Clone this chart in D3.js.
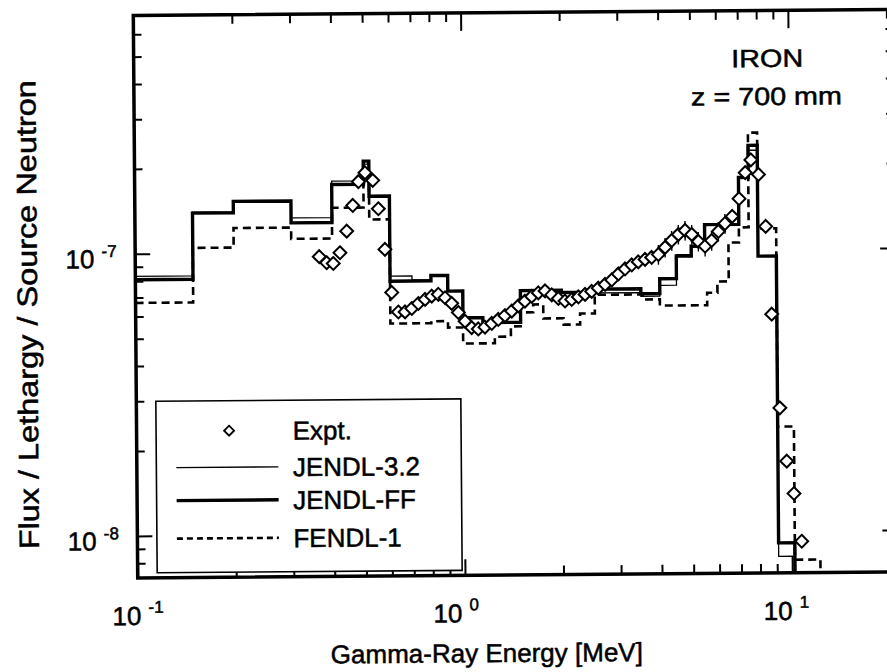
<!DOCTYPE html>
<html>
<head>
<meta charset="utf-8">
<script src="https://cdn.jsdelivr.net/npm/d3@7"></script>
<style>
  body { margin: 0; background: #fff; }
  svg { display: block; }
  text { font-family: "Liberation Sans", Arial, Helvetica, sans-serif; fill: #000; stroke: #000; stroke-width: 0.5px; }
</style>
</head>
<body>
<svg id="chart" width="887" height="672"></svg>
<script>
// Group structure (MeV) shared by the two JENDL calculations
const jendlEdges = [0.1, 0.15, 0.2, 0.3, 0.4, 0.5, 0.52, 0.6, 0.7, 0.8, 0.9, 1.0, 1.15, 1.5, 2.0, 2.5,
                    3.5, 4.0, 4.5, 5.0, 5.5, 7.0, 7.5, 8.0, 9.1, 10.2, 12.0];
// Group fluxes per lethargy per source neutron
const jendl32 = [8.32e-8, 1.40e-7, 1.53e-7, 1.328e-7, 1.787e-7, 2.05e-7, 1.58e-7, 8.20e-8, 7.95e-8, 8.22e-8,
                 7.23e-8, 5.85e-8, 5.60e-8, 7.25e-8, 7.10e-8, 7.06e-8, 6.85e-8, 7.48e-8, 9.60e-8, 1.03e-7,
                 1.22e-7, 1.80e-7, 2.24e-7, 9.43e-8, 8.13e-9, 4.0e-9];
const jendlFF = [8.10e-8, 1.39e-7, 1.525e-7, 1.275e-7, 1.74e-7, 2.10e-7, 1.577e-7, 7.87e-8, 7.87e-8, 8.22e-8,
                 7.23e-8, 5.81e-8, 5.58e-8, 7.23e-8, 7.10e-8, 7.28e-8, 7.00e-8, 7.89e-8, 9.48e-8, 1.027e-7,
                 1.224e-7, 1.795e-7, 2.33e-7, 9.43e-8, 9.07e-9, 4.0e-9];

// FENDL-1 calculation with its own group boundaries
const fendlEdges = [0.1, 0.15, 0.2, 0.3, 0.4, 0.5, 0.52, 0.6, 0.8, 0.9, 1.0, 1.25, 1.4, 1.5, 1.64, 1.76,
                    2.03, 2.28, 2.53, 3.55, 4.0, 5.58, 6.0, 6.5, 7.0, 7.5, 8.0, 9.1, 10.2, 12.2, 14.0];
const fendl1 = [6.70e-8, 1.046e-7, 1.227e-7, 1.119e-7, 1.438e-7, 1.765e-7, 1.304e-7, 5.57e-8, 5.66e-8, 5.37e-8,
                4.71e-8, 4.97e-8, 5.40e-8, 6.05e-8, 6.45e-8, 5.75e-8, 5.46e-8, 5.97e-8, 6.95e-8, 6.67e-8,
                6.34e-8, 7.02e-8, 7.69e-8, 1.056e-7, 1.194e-7, 2.585e-7, 1.182e-7, 2.344e-8, 7.90e-9, 3.0e-9];

// Measured spectrum
const exptEnergy = [0.365, 0.3845, 0.4027, 0.4224, 0.4435, 0.4633, 0.4827, 0.5058, 0.534, 0.5547, 0.5798,
                    0.6066, 0.635, 0.6656, 0.698, 0.7313, 0.7668, 0.8037, 0.8419, 0.8828, 0.9245, 0.9685,
                    1.0146, 1.0627, 1.1132, 1.167, 1.224, 1.282, 1.344, 1.41, 1.477, 1.548, 1.624, 1.702,
                    1.784, 1.870, 1.959, 2.052, 2.151, 2.255, 2.364, 2.477, 2.595, 2.723, 2.855, 2.992,
                    3.136, 3.288, 3.443, 3.612, 3.784, 3.968, 4.161, 4.362, 4.573, 4.794, 5.024, 5.26,
                    5.514, 5.776, 6.058, 6.35, 6.685, 7.02, 7.34, 7.645, 8.06, 8.455, 8.78, 9.25, 9.68,
                    10.17, 10.71];
const exptFlux = [9.66e-8, 9.19e-8, 9.13e-8, 9.96e-8, 1.188e-7, 1.464e-7, 1.777e-7, 1.911e-7, 1.794e-7,
                  1.423e-7, 1.021e-7, 7.18e-8, 6.12e-8, 6.12e-8, 6.29e-8, 6.55e-8, 6.77e-8, 6.95e-8,
                  7.05e-8, 6.85e-8, 6.54e-8, 6.07e-8, 5.65e-8, 5.36e-8, 5.30e-8, 5.38e-8, 5.54e-8,
                  5.72e-8, 5.90e-8, 6.12e-8, 6.38e-8, 6.63e-8, 6.89e-8, 7.09e-8, 7.20e-8, 6.97e-8,
                  6.76e-8, 6.62e-8, 6.70e-8, 6.84e-8, 6.98e-8, 7.15e-8, 7.34e-8, 7.56e-8, 7.84e-8,
                  8.23e-8, 8.57e-8, 8.85e-8, 9.07e-8, 9.25e-8, 9.40e-8, 9.62e-8, 1.019e-7, 1.078e-7,
                  1.132e-7, 1.169e-7, 1.131e-7, 1.068e-7, 1.026e-7, 1.075e-7, 1.157e-7, 1.234e-7,
                  1.307e-7, 1.509e-7, 1.866e-7, 2.07e-7, 1.837e-7, 1.202e-7, 5.87e-8, 2.73e-8,
                  1.767e-8, 1.356e-8, 9.18e-9];
// Relative uncertainty of each measured point
const exptErr = [0.03, 0.03, 0.03, 0.03, 0.03, 0.03, 0.03, 0.03, 0.03, 0.03, 0.03,
                 0.03, 0.03, 0.03, 0.03, 0.03, 0.03, 0.03, 0.03, 0.03, 0.03, 0.03,
                 0.03, 0.03, 0.03, 0.03, 0.03, 0.03, 0.03, 0.03, 0.03, 0.03, 0.03, 0.03,
                 0.03, 0.03, 0.03, 0.03, 0.03, 0.03, 0.03, 0.03, 0.03, 0.05, 0.05, 0.05,
                 0.05, 0.05, 0.05, 0.05, 0.05, 0.08, 0.08, 0.08, 0.08, 0.08, 0.08, 0.08,
                 0.08, 0.08, 0.08, 0.08, 0.03, 0.03, 0.03, 0.03, 0.03, 0.03, 0.03, 0.03, 0.03,
                 0.03, 0.03];

// Axis ticks and labels
const xMajorTicks = [0.1, 1, 10];
const xMajorExponents = ["-1", "0", "1"];
const xMinorTicks = [0.2, 0.3, 0.4, 0.5, 0.6, 0.7, 0.8, 0.9, 2, 3, 4, 5, 6, 7, 8, 9, 20];
const yMajorTicks = [1e-8, 1e-7];
const yMajorExponents = ["-8", "-7"];
const yMinorTicks = [8e-9, 9e-9, 2e-8, 3e-8, 4e-8, 5e-8, 6e-8, 7e-8, 8e-8, 9e-8,
                     2e-7, 3e-7, 4e-7, 5e-7, 6e-7];
const legendLabels = ["Expt.", "JENDL-3.2", "JENDL-FF", "FENDL-1"];
const annotation = ["IRON", "z = 700 mm"];
const xTitle = "Gamma-Ray Energy [MeV]";
const yTitle = "Flux / Lethargy / Source Neutron";

// ---- layout ----
const W = 887, H = 672;
const plot = { left: 135.5, right: 895.5, top: 12.5, bottom: 575 };

const x = d3.scaleLog().domain([0.1, 21]).range([plot.left, plot.right]);
const y = d3.scaleLog().domain([7.1e-9, 7.0e-7]).range([plot.bottom, plot.top]);

const svg = d3.select("#chart");
svg.append("rect").attr("width", W).attr("height", H).attr("fill", "#fff");

// whole figure sits slightly tilted on the page
const root = svg.append("g").attr("transform", "rotate(-0.45 510 294)");

root.append("clipPath").attr("id", "plotClip")
  .append("rect")
  .attr("x", plot.left).attr("y", plot.top)
  .attr("width", plot.right - plot.left).attr("height", plot.bottom - plot.top);

// ---- ticks (all pointing inward) ----
function tickAxis(axisFn, scale, values, size, transform) {
  const g = root.append("g").attr("transform", transform)
    .call(axisFn(scale).tickValues(values).tickSize(size).tickFormat(""));
  g.select(".domain").remove();
  g.selectAll(".tick line").attr("stroke", "#000").attr("stroke-width", 2);
  return g;
}
tickAxis(d3.axisBottom, x, xMinorTicks, -9, `translate(0,${plot.bottom})`);
tickAxis(d3.axisBottom, x, xMajorTicks, -16, `translate(0,${plot.bottom})`);
tickAxis(d3.axisTop, x, xMinorTicks, -9, `translate(0,${plot.top})`);
tickAxis(d3.axisTop, x, xMajorTicks, -18, `translate(0,${plot.top})`);
tickAxis(d3.axisLeft, y, yMinorTicks, -8, `translate(${plot.left},0)`);
tickAxis(d3.axisLeft, y, yMajorTicks, -15, `translate(${plot.left},0)`);
tickAxis(d3.axisRight, y, yMinorTicks, -8, `translate(${plot.right},0)`);
tickAxis(d3.axisRight, y, yMajorTicks, -15, `translate(${plot.right},0)`);

// ---- histograms ----
const step = d3.line()
  .x(d => x(d[0]))
  .y(d => y(d[1]))
  .curve(d3.curveStepAfter);

function histPoints(edges, values) {
  return edges.map((e, i) => [e, values[Math.min(i, values.length - 1)]]);
}

const series = [
  { edges: fendlEdges, values: fendl1, width: 2.6, dash: "8,5" },
  { edges: jendlEdges, values: jendl32, width: 1.3, dash: null },
  { edges: jendlEdges, values: jendlFF, width: 3.4, dash: null }
];

const lines = root.append("g").attr("clip-path", "url(#plotClip)");
series.forEach(s => {
  lines.append("path")
    .attr("d", step(histPoints(s.edges, s.values)))
    .attr("fill", "none")
    .attr("stroke", "#000")
    .attr("stroke-width", s.width)
    .attr("stroke-dasharray", s.dash)
    .attr("stroke-linejoin", "miter");
});

// ---- measured points ----
const expt = exptEnergy.map((e, i) => ({ e, f: exptFlux[i], err: exptErr[i] }));
const pts = root.append("g").attr("clip-path", "url(#plotClip)");
pts.selectAll("line.err").data(expt).join("line")
  .attr("class", "err")
  .attr("x1", d => x(d.e)).attr("x2", d => x(d.e))
  .attr("y1", d => y(d.f * (1 + d.err))).attr("y2", d => y(d.f * (1 - d.err)))
  .attr("stroke", "#000").attr("stroke-width", 1.4);

const diamondType = d3.symbolDiamond2 || d3.symbolDiamond;
const diamond = d3.symbol().type(diamondType).size(105);
pts.selectAll("path.pt").data(expt).join("path")
  .attr("class", "pt")
  .attr("transform", d => `translate(${x(d.e)},${y(d.f)})`)
  .attr("d", diamond)
  .attr("fill", "#fff").attr("stroke", "#000").attr("stroke-width", 2);

// ---- frame ----
root.append("rect")
  .attr("x", plot.left).attr("y", plot.top)
  .attr("width", plot.right - plot.left).attr("height", plot.bottom - plot.top)
  .attr("fill", "none").attr("stroke", "#000").attr("stroke-width", 3.5);

// ---- tick labels ----
const xLabelShift = [0, -9, -6];
const xLab = root.append("g");
xMajorTicks.forEach((t, i) => {
  const txt = xLab.append("text")
    .attr("x", x(t) + xLabelShift[i]).attr("y", plot.bottom + 47)
    .attr("text-anchor", "middle").attr("font-size", 26);
  txt.append("tspan").text("10 ");
  txt.append("tspan").attr("dy", -12).attr("font-size", 17).text(xMajorExponents[i]);
});
const yLab = root.append("g");
yMajorTicks.forEach((t, i) => {
  const txt = yLab.append("text")
    .attr("x", 117).attr("y", y(t) + 14)
    .attr("text-anchor", "end").attr("font-size", 26);
  txt.append("tspan").text("10 ");
  txt.append("tspan").attr("dy", -11).attr("font-size", 17).text(yMajorExponents[i]);
});

// ---- axis titles ----
root.append("text")
  .attr("x", 484).attr("y", 662)
  .attr("text-anchor", "middle").attr("font-size", 26)
  .text(xTitle);
root.append("text")
  .attr("transform", "translate(37,311) rotate(-90) scale(1.16,1)")
  .attr("text-anchor", "middle").attr("font-size", 28)
  .text(yTitle);

// ---- annotation ----
root.append("text").attr("transform", "translate(769,69) scale(1.15,1)")
  .attr("text-anchor", "middle").attr("font-size", 25).text(annotation[0]);
root.append("text").attr("transform", "translate(768,107) scale(1.15,1)")
  .attr("text-anchor", "middle").attr("font-size", 25).text(annotation[1]);

// ---- legend ----
const lg = root.append("g");
lg.append("rect")
  .attr("x", 155).attr("y", 398.5).attr("width", 305).attr("height", 171.5)
  .attr("fill", "#fff").attr("stroke", "#000").attr("stroke-width", 1.6);
const rowY = [428.5, 465, 498, 536];
lg.append("path")
  .attr("transform", `translate(228,${rowY[0]})`)
  .attr("d", d3.symbol().type(diamondType).size(64))
  .attr("fill", "#fff").attr("stroke", "#000").attr("stroke-width", 1.8);
const legendStyles = [null, series[1], series[2], series[0]];
for (let k = 1; k < 4; k++) {
  const s = legendStyles[k];
  lg.append("line")
    .attr("x1", 175).attr("x2", 277).attr("y1", rowY[k]).attr("y2", rowY[k])
    .attr("stroke", "#000").attr("stroke-width", s.width)
    .attr("stroke-dasharray", s.dash ? "6,4" : null);
}
legendLabels.forEach((lab, k) => {
  lg.append("text").attr("x", 291.5).attr("y", rowY[k] + 9.5)
    .attr("font-size", 26).text(lab);
});
</script>
</body>
</html>
